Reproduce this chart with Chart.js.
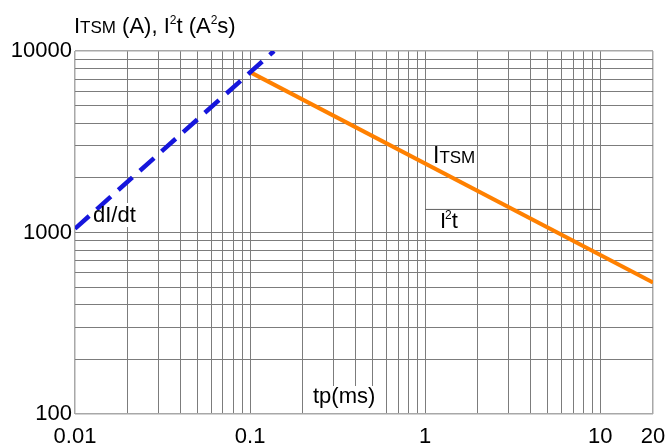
<!DOCTYPE html>
<html>
<head>
<meta charset="utf-8">
<script src="https://cdn.jsdelivr.net/npm/chart.js@4/dist/chart.umd.min.js"></script>
<style>
html,body{margin:0;padding:0;background:#fff;}
canvas{display:block;}
</style>
</head>
<body>
<canvas id="c" width="667" height="445"></canvas>
<script>
// ---- data ----
const didtTp = [0.01, 0.137];
const didtValues = [1050, 10000];
const itsmTp = [0.1, 20];
const itsmValues = [7650, 530];
const i2tTp = [1, 10];
const i2tValues = [1340, 1340];

const xGridValues = [0.01,0.02,0.03,0.04,0.05,0.06,0.07,0.08,0.09,0.1,0.2,0.3,0.4,0.5,0.6,0.7,0.8,0.9,1,2,3,4,5,6,7,8,9,10,20];
const xTickLabels = {0.01:'0.01', 0.1:'0.1', 1:'1', 10:'10', 20:'20'};
const yGridValues = [100,200,300,400,500,600,700,800,900,1000,2000,3000,4000,5000,6000,7000,8000,9000,10000];
const yTickLabels = {100:'100', 1000:'1000', 10000:'10000'};

const FONT = "'Liberation Sans', Arial, sans-serif";

function pts(xs, ys){ return xs.map((x,i)=>({x:x, y:ys[i]})); }

function drawRich(ctx, x, y, parts){
  let cx = x;
  ctx.textBaseline = 'alphabetic';
  ctx.textAlign = 'left';
  ctx.fillStyle = '#000';
  parts.forEach(p=>{
    ctx.font = p.size + 'px ' + FONT;
    ctx.fillText(p.t, cx, y - (p.rise||0));
    cx += ctx.measureText(p.t).width + (p.gap||0);
  });
}

const annot = {
  id: 'annot',
  beforeDatasetsDraw(chart){
    const ctx = chart.ctx;
    ctx.save();
    ctx.fillStyle = '#fff';
    ctx.fillRect(92, 203, 48, 24);   // behind dI/dt
    ctx.fillRect(306, 386, 78, 27);  // behind tp(ms)
    ctx.restore();
  },
  afterDatasetsDraw(chart){
    const ctx = chart.ctx;
    ctx.save();
    drawRich(ctx, 74, 33, [
      {t:'I', size:22},
      {t:'TSM', size:17},
      {t:' (A), I', size:22},
      {t:'2', size:12, rise:9},
      {t:'t (A', size:22},
      {t:'2', size:12, rise:9},
      {t:'s)', size:22}
    ]);
    drawRich(ctx, 313, 403, [{t:'tp(ms)', size:22}]);
    drawRich(ctx, 93, 222, [{t:'dI/dt', size:22}]);
    drawRich(ctx, 433, 163, [{t:'I', size:23}, {t:'TSM', size:17}]);
    drawRich(ctx, 440, 228, [{t:'I', size:22, gap:-1}, {t:'2', size:12, rise:9}, {t:'t', size:22}]);
    ctx.restore();
  }
};

const edgeX = (c)=> c.tick && (c.tick.value===0.01 || c.tick.value===20);
const edgeY = (c)=> c.tick && (c.tick.value===100 || c.tick.value===10000);

new Chart(document.getElementById('c'), {
  type: 'scatter',
  data: {
    datasets: [
      {
        label: 'dI/dt',
        data: pts(didtTp, didtValues),
        showLine: true,
        borderColor: '#1616DC',
        borderWidth: 4.5,
        borderDash: [19, 10],
        pointRadius: 0,
        fill: false
      },
      {
        label: 'ITSM',
        data: pts(itsmTp, itsmValues),
        showLine: true,
        borderColor: '#FF8000',
        borderWidth: 4,
        pointRadius: 0,
        fill: false
      },
      {
        label: 'I2t',
        data: pts(i2tTp, i2tValues),
        showLine: true,
        borderColor: '#606060',
        borderWidth: 1,
        pointRadius: 0,
        fill: false
      }
    ]
  },
  options: {
    responsive: false,
    animation: false,
    layout: { padding: { top: 51, right: 14, left: 0, bottom: 0 } },
    plugins: { legend: { display: false }, tooltip: { enabled: false } },
    scales: {
      x: {
        type: 'logarithmic',
        min: 0.01, max: 20,
        afterBuildTicks(scale){ scale.ticks = xGridValues.map(v=>({value:v})); },
        afterFit(scale){ scale.height = 31; scale.paddingLeft = 0; scale.paddingRight = 0; },
        grid: {
          color: (c)=> edgeX(c) ? '#a8a8a8' : '#7c7c7c',
          lineWidth: (c)=> edgeX(c) ? 1.5 : 1,
          drawTicks: false
        },
        border: { display: false },
        ticks: {
          autoSkip: false, maxRotation: 0, minRotation: 0, padding: 10,
          color: '#000',
          font: { family: FONT, size: 22 },
          callback: (v)=> xTickLabels[v] !== undefined ? xTickLabels[v] : ''
        }
      },
      y: {
        type: 'logarithmic',
        min: 100, max: 10000,
        afterBuildTicks(scale){ scale.ticks = yGridValues.map(v=>({value:v})); },
        afterFit(scale){ scale.width = 75; scale.paddingTop = 0; scale.paddingBottom = 0; },
        grid: {
          color: (c)=> edgeY(c) ? '#a8a8a8' : '#7c7c7c',
          lineWidth: (c)=> edgeY(c) ? 1.5 : 1,
          drawTicks: false
        },
        border: { display: false },
        ticks: {
          autoSkip: false, padding: 3,
          color: '#000',
          font: { family: FONT, size: 22 },
          callback: (v)=> yTickLabels[v] !== undefined ? yTickLabels[v] : ''
        }
      }
    }
  },
  plugins: [annot]
});
</script>
</body>
</html>
